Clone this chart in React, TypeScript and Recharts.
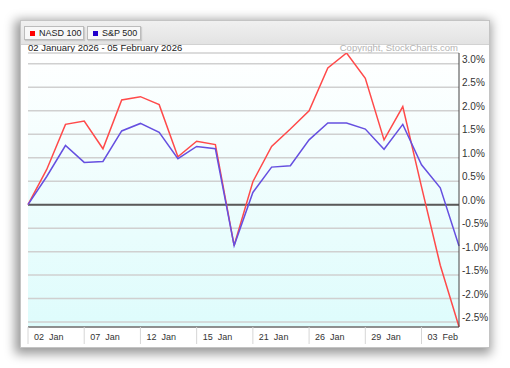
import React from 'react'
import { LineChart, Line, XAxis, YAxis, CartesianGrid, ReferenceLine } from 'recharts'

const dates = [
  '02 Jan', '05 Jan', '06 Jan', '07 Jan', '08 Jan', '09 Jan',
  '12 Jan', '13 Jan', '14 Jan', '15 Jan', '16 Jan', '20 Jan',
  '21 Jan', '22 Jan', '23 Jan', '26 Jan', '27 Jan', '28 Jan',
  '29 Jan', '30 Jan', '02 Feb', '03 Feb', '04 Feb', '05 Feb',
]
const nasd100 = [
  0, 0.75, 1.71, 1.78, 1.19, 2.23, 2.3, 2.13, 1.02, 1.35, 1.28, -0.87,
  0.49, 1.24, 1.61, 2.0, 2.91, 3.23, 2.69, 1.38, 2.09, 0.38, -1.29, -2.6,
]
const sp500 = [
  0, 0.6, 1.26, 0.9, 0.92, 1.57, 1.73, 1.54, 0.98, 1.24, 1.19, -0.87,
  0.26, 0.8, 0.83, 1.38, 1.74, 1.74, 1.61, 1.18, 1.71, 0.85, 0.36, -0.88,
]
const xTicks = ['02 Jan', '07 Jan', '12 Jan', '15 Jan', '21 Jan', '26 Jan', '29 Jan', '03 Feb']
const yTicks = [-2.5, -2, -1.5, -1, -0.5, 0, 0.5, 1, 1.5, 2, 2.5, 3]

const data = dates.map((d, i) => ({ date: d, nasd: nasd100[i], spx: sp500[i] }))

const FONT = '"Liberation Sans", Arial, sans-serif'

// eslint-disable-next-line @typescript-eslint/no-explicit-any
function XTick({ x, payload }: any) {
  return (
    <g>
      <line x1={x} x2={x} y1={327} y2={344} stroke="#d6d6d6" />
      <text x={x + 6} y={340} fontSize={9} fill="#333" fontFamily={FONT}>
        {payload.value.replace(' ', '\u00a0\u00a0')}
      </text>
    </g>
  )
}

// eslint-disable-next-line @typescript-eslint/no-explicit-any
function YTick({ y, payload }: any) {
  return (
    <text x={462} y={y - 1} fontSize={10} fill="#333" fontFamily={FONT}>
      {payload.value.toFixed(1)}%
    </text>
  )
}

function LegendItem({ left, width, color, label }: { left: number; width: number; color: string; label: string }) {
  return (
    <div
      style={{
        position: 'absolute', left, top: 5, width, height: 14,
        background: '#f8f8f8', border: '1px solid #bcbcbc', boxShadow: '1px 1px 1px rgba(0,0,0,0.12)',
        fontSize: 9, fontFamily: FONT, color: '#222', lineHeight: '13px', boxSizing: 'border-box',
        whiteSpace: 'nowrap',
      }}
    >
      <span style={{ position: 'absolute', left: 5, top: 4, width: 5, height: 5, background: color }} />
      <span style={{ position: 'absolute', left: 14, top: 0, whiteSpace: 'nowrap' }}>{label}</span>
    </div>
  )
}

export default function App() {
  return (
    <div style={{ position: 'absolute', left: 0, top: 0, width: 510, height: 368, background: '#fff', overflow: 'hidden' }}>
      <div
        style={{
          position: 'absolute', left: 20, top: 20, width: 470, height: 328, background: '#fff',
          border: '1px solid #c4c4c4', boxSizing: 'border-box',
          boxShadow: '-2px 3px 10px 3px rgba(0,0,0,0.4)',
        }}
      >
        <div
          style={{
            position: 'absolute', left: 0, top: 0, right: 0, height: 23,
            background: 'linear-gradient(#f0f0f0, #e3e3e3)', borderBottom: '1px solid #d2d2d2',
          }}
        />
        <LegendItem left={3} width={60} color="#ff0000" label="NASD 100" />
        <LegendItem left={66} width={54} color="#2200cc" label="S&P 500" />
      </div>
      <div style={{ position: 'absolute', left: 28, top: 42, fontSize: 9.5, fontFamily: FONT, color: '#222', whiteSpace: 'nowrap' }}>
        02 January 2026 - 05 February 2026
      </div>
      <div style={{ position: 'absolute', right: 52, top: 42, fontSize: 9.5, fontFamily: FONT, color: '#b4b4b4', whiteSpace: 'nowrap' }}>
        Copyright, StockCharts.com
      </div>
      <LineChart
        width={510}
        height={368}
        data={data}
        margin={{ top: 53, right: 0, bottom: 0, left: 28 }}
        style={{ position: 'absolute', left: 0, top: 0 }}
      >
        <defs>
          <linearGradient id="plotBg" x1="0" y1="0" x2="0" y2="1">
            <stop offset="0%" stopColor="#ffffff" />
            <stop offset="100%" stopColor="#defcfc" />
          </linearGradient>
        </defs>
        <CartesianGrid vertical={false} stroke="#d0d0d0" strokeWidth={1.5} fill="url(#plotBg)" fillOpacity={1} />
        <XAxis
          dataKey="date"
          ticks={xTicks}
          interval={0}
          height={41}
          tickLine={false}
          axisLine={{ stroke: '#444', strokeWidth: 1 }}
          tick={<XTick />}
        />
        <YAxis
          orientation="right"
          width={51}
          domain={[-2.605, 3.23]}
          ticks={yTicks}
          allowDataOverflow
          tickLine={false}
          axisLine={{ stroke: '#444', strokeWidth: 1 }}
          tick={<YTick />}
        />
        <ReferenceLine y={0} stroke="#5a5a5a" strokeWidth={2} />
        <Line type="linear" dataKey="nasd" stroke="#ff4a4a" strokeWidth={1.5} dot={false} isAnimationActive={false} />
        <Line type="linear" dataKey="spx" stroke="#6650e0" strokeWidth={1.5} dot={false} isAnimationActive={false} />
      </LineChart>
    </div>
  )
}
